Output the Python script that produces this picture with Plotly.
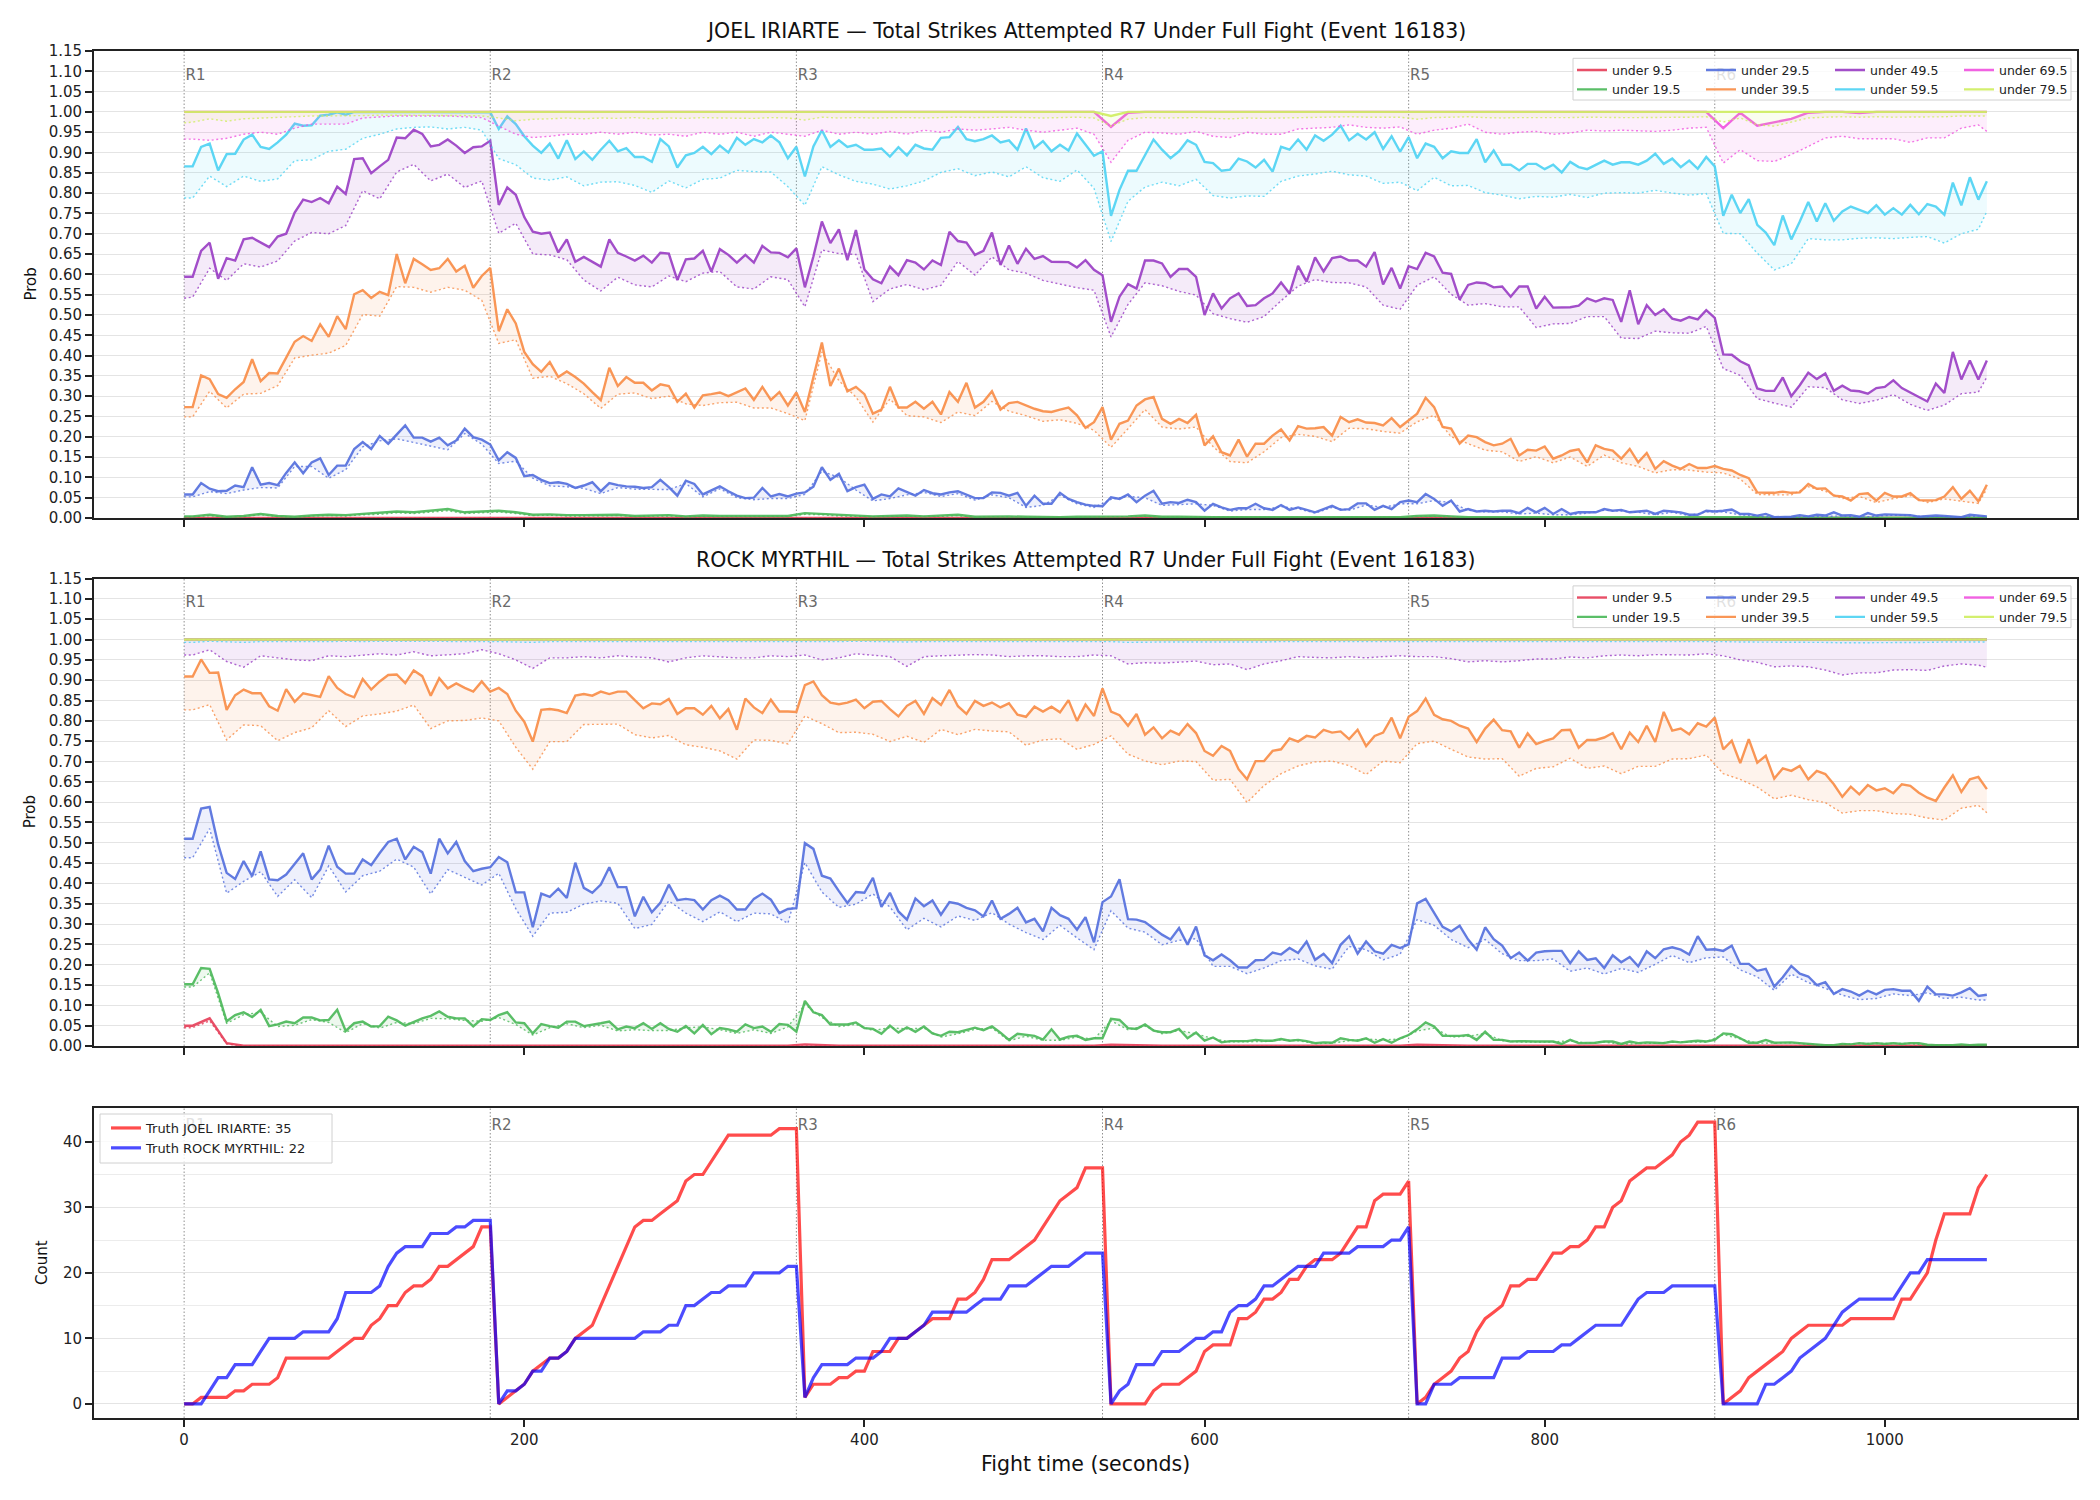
import plotly.graph_objects as go

# ---------------- time grids (seconds) ----------------
T5 = list(range(0, 1061, 5))                      # main solid lines + truth counts
TD = [0] + list(range(5, 1060, 10)) + [1060]      # dotted lines and near-flat lines

ROUND_STARTS = [0, 180, 360, 540, 720, 900]
ROUND_LABELS = ["R1", "R2", "R3", "R4", "R5", "R6"]

THRESHOLDS = ["under 9.5", "under 19.5", "under 29.5", "under 39.5",
              "under 49.5", "under 59.5", "under 69.5", "under 79.5"]
COLORS = ["#e6405a", "#4cb85a", "#5570dd", "#f88d48",
          "#9a3fc4", "#4fd3f3", "#f055e0", "#cfee62"]

TITLE_TOP = "JOEL IRIARTE \u2014 Total Strikes Attempted R7 Under Full Fight (Event 16183)"
TITLE_MID = "ROCK MYRTHIL \u2014 Total Strikes Attempted R7 Under Full Fight (Event 16183)"
TRUTH_NAMES = ["Truth JOEL IRIARTE: 35", "Truth ROCK MYRTHIL: 22"]

# ================= JOEL IRIARTE (top panel) =================
J_U9 = [0,
    0,0,0,0,0,0, 0,0,0,0,0,0, 0,0,0,0,0,0, 0,0,0,0,0,0, 0,0,0,0,0,0, 0,0,0,0,0,0,
    0,0,0,0,0,0, 0,0,0,0,0,0, 0,0,0,0,0,0, 0,0,0,0,0,0, 0,0,0,0,0,0, 0,0,0,0,0,0,
    0,0,0,0,0,0, 0,0,0,0,0,0, 0,0,0,0,0,0, 0,0,0,0,0,0, 0,0,0,0,0,0,
    0,0,0,0, 0]
J_U9_LO = [0,
    0,0,0,0,0,0, 0,0,0,0,0,0, 0,0,0,0,0,0, 0,0,0,0,0,0, 0,0,0,0,0,0, 0,0,0,0,0,0,
    0,0,0,0,0,0, 0,0,0,0,0,0, 0,0,0,0,0,0, 0,0,0,0,0,0, 0,0,0,0,0,0, 0,0,0,0,0,0,
    0,0,0,0,0,0, 0,0,0,0,0,0, 0,0,0,0,0,0, 0,0,0,0,0,0, 0,0,0,0,0,0,
    0,0,0,0, 0]

J_U19 = [.004,
    .004,.008,.003,.005,.010,.005, .003,.006,.008,.007,.010,.012, .016,.014,.018,.022,.014,.016,
    .018,.014,.008,.009,.007,.007, .008,.008,.005,.006,.007,.004, .006,.005,.005,.006,.005,.005,
    .012,.010,.007,.006,.004,.005, .006,.004,.006,.008,.003,.004, .004,.003,.002,.002,.003,.003,
    .004,.004,.006,.003,.003,.002, .002,.002,.002,.002,.002,.002, .002,.002,.002,.002,.002,.002,
    .005,.006,.004,.002,.002,.002, .002,.002,.002,.002,.002,.002, .002,.002,.002,.002,.002,.002,
    .003,.002,.002,.001,.001,.001, .001,.001,.001,.001,.001,.001,
    .001,.001,.001,.001, .001]
J_U19_LO = [.003,
    .003,.006,.002,.004,.008,.004, .002,.005,.006,.005,.008,.009, .013,.011,.015,.018,.011,.013,
    .015,.011,.006,.007,.005,.005, .006,.006,.004,.004,.005,.003, .004,.004,.004,.004,.004,.004,
    .009,.008,.005,.004,.003,.004, .004,.003,.004,.006,.002,.003, .003,.002,.001,.001,.002,.002,
    .003,.003,.004,.002,.002,.001, .001,.001,.001,.001,.001,.001, .001,.001,.001,.001,.001,.001,
    .004,.004,.003,.001,.001,.001, .001,.001,.001,.001,.001,.001, .001,.001,.001,.001,.001,.001,
    .002,.001,.001,.001,.001,.001, .001,.001,.001,.001,.001,.001,
    .001,.001,.001,.001, .001]

J_U29 = [
    .058,.058,.086,.072,.066,.067,.080,.076,.125,.082,.086,.081,
    .111,.137,.110,.137,.147,.106,.129,.129,.170,.187,.170,.202,
    .183,.206,.228,.198,.198,.188,.198,.179,.191,.220,.199,.193,
    .181,.142,.162,.148,.103,.106,.094,.086,.088,.084,.074,.080,
    .088,.066,.086,.081,.078,.077,.074,.076,.094,.076,.055,.092,
    .084,.058,.067,.078,.066,.055,.049,.050,.074,.053,.059,.053,
    .060,.063,.077,.125,.094,.109,.066,.076,.082,.047,.058,.053,
    .073,.063,.055,.069,.061,.058,.063,.066,.058,.049,.049,.063,
    .062,.055,.062,.030,.055,.035,.035,.062,.047,.039,.033,.030,
    .029,.051,.047,.058,.039,.055,.067,.035,.039,.037,.045,.039,
    .018,.035,.026,.020,.024,.024,.035,.024,.020,.032,.020,.026,
    .020,.014,.022,.030,.020,.022,.036,.036,.020,.030,.022,.039,
    .043,.039,.059,.047,.030,.043,.016,.022,.016,.018,.016,.018,
    .018,.012,.025,.014,.025,.010,.022,.010,.014,.014,.014,.022,
    .018,.020,.014,.016,.018,.010,.018,.016,.014,.008,.008,.018,
    .016,.018,.021,.010,.010,.006,.010,.002,.003,.003,.007,.004,
    .008,.006,.014,.006,.007,.003,.012,.006,.009,.008,.008,.007,
    .003,.004,.006,.005,.003,.002,.008,.006,.004]
J_U29_LO = [.052,
    .052,.065,.060,.069,.075,.074, .127,.127,.098,.119,.175,.190, .195,.186,.177,.168,.208,.182,
    .134,.140,.098,.079,.077,.073, .060,.075,.071,.070,.070,.085, .052,.072,.050,.045,.048,.048,
    .058,.115,.100,.069,.042,.048, .057,.063,.053,.060,.044,.057, .050,.026,.031,.056,.035,.026,
    .046,.053,.050,.031,.033,.035, .031,.017,.021,.021,.028,.023, .012,.026,.019,.032,.026,.035,
    .035,.043,.038,.019,.015,.015, .010,.012,.008,.008,.012,.019, .017,.014,.008,.014,.006,.015,
    .015,.008,.005,.002,.002,.003, .005,.005,.002,.005,.007,.006,
    .003,.004,.002,.005, .003]

J_U39 = [
    .273,.273,.351,.342,.305,.296,.317,.335,.391,.337,.357,.356,
    .395,.434,.448,.436,.477,.446,.497,.465,.551,.561,.542,.557,
    .549,.650,.578,.638,.625,.611,.615,.638,.607,.621,.567,.596,
    .616,.460,.514,.479,.409,.379,.360,.384,.347,.361,.347,.331,
    .310,.290,.370,.325,.347,.333,.333,.314,.329,.325,.286,.306,
    .272,.302,.305,.309,.300,.310,.319,.291,.323,.291,.310,.277,
    .309,.261,.347,.432,.325,.368,.312,.323,.305,.257,.267,.323,
    .272,.272,.286,.269,.286,.255,.310,.286,.333,.272,.286,.312,
    .267,.283,.286,.277,.269,.263,.261,.267,.272,.253,.222,.236,
    .273,.193,.232,.240,.277,.292,.298,.244,.232,.244,.234,.254,
    .179,.201,.162,.154,.193,.151,.183,.183,.203,.218,.191,.226,
    .220,.221,.224,.203,.249,.236,.243,.235,.234,.228,.246,.224,
    .241,.257,.296,.273,.224,.220,.183,.203,.199,.187,.179,.183,
    .195,.154,.168,.166,.176,.146,.154,.165,.169,.137,.179,.170,
    .166,.146,.170,.137,.160,.121,.140,.129,.121,.133,.123,.123,
    .128,.121,.117,.106,.098,.063,.062,.062,.065,.062,.063,.084,
    .072,.073,.055,.053,.043,.059,.061,.043,.062,.053,.053,.061,
    .044,.043,.044,.053,.076,.047,.067,.041,.082]
J_U39_LO = [.249,
    .249,.312,.271,.305,.307,.326, .394,.401,.406,.425,.501,.497, .570,.568,.556,.568,.561,.536,
    .430,.439,.344,.349,.331,.306, .270,.305,.308,.294,.300,.281, .277,.284,.285,.271,.271,.257,
    .240,.409,.338,.298,.236,.293, .252,.249,.235,.261,.252,.287, .263,.252,.238,.242,.233,.216,
    .174,.220,.267,.224,.219,.224, .176,.139,.136,.163,.198,.206, .201,.188,.221,.220,.213,.209,
    .237,.253,.200,.183,.167,.163, .139,.151,.136,.150,.127,.155, .136,.127,.111,.119,.118,.113,
    .111,.096,.058,.057,.057,.077, .066,.048,.053,.038,.048,.055,
    .038,.047,.042,.036, .072]

J_U49 = [
    .594,.594,.658,.678,.589,.640,.634,.686,.690,.678,.667,.693,
    .700,.752,.784,.778,.788,.775,.816,.798,.884,.886,.849,.866,
    .882,.937,.935,.956,.946,.915,.919,.932,.917,.899,.913,.915,
    .929,.771,.814,.796,.741,.705,.700,.703,.654,.686,.631,.643,
    .631,.619,.686,.653,.644,.634,.646,.629,.653,.651,.586,.637,
    .639,.658,.607,.662,.648,.629,.648,.629,.670,.654,.653,.642,
    .664,.568,.644,.730,.677,.711,.635,.709,.612,.588,.578,.619,
    .598,.635,.629,.612,.634,.623,.705,.682,.678,.648,.658,.703,
    .623,.671,.626,.663,.638,.645,.631,.631,.630,.617,.635,.611,
    .598,.483,.545,.576,.565,.634,.634,.627,.594,.613,.613,.594,
    .500,.553,.516,.541,.553,.522,.524,.541,.553,.580,.553,.621,
    .582,.642,.607,.640,.644,.634,.634,.619,.655,.575,.616,.565,
    .620,.613,.653,.644,.604,.601,.538,.574,.580,.578,.568,.570,
    .545,.570,.570,.516,.545,.518,.518,.519,.523,.541,.533,.541,
    .537,.483,.561,.477,.524,.500,.514,.491,.486,.495,.489,.512,
    .493,.403,.402,.386,.376,.319,.313,.313,.346,.300,.327,.358,
    .342,.356,.313,.326,.314,.312,.306,.320,.323,.339,.320,.310,
    .298,.287,.331,.308,.409,.341,.388,.341,.388]
J_U49_LO = [.541,
    .544,.615,.585,.626,.618,.633, .682,.703,.700,.720,.806,.786, .852,.871,.830,.847,.814,.830,
    .701,.726,.650,.648,.636,.586, .559,.593,.574,.569,.596,.582, .603,.607,.569,.564,.594,.587,
    .520,.660,.651,.649,.533,.564, .575,.562,.573,.632,.598,.643, .611,.603,.585,.576,.567,.561,
    .446,.526,.579,.572,.558,.549, .503,.491,.482,.496,.535,.571, .587,.580,.579,.569,.524,.514,
    .573,.594,.551,.524,.528,.520, .520,.469,.478,.479,.496,.496, .443,.442,.460,.456,.455,.472,
    .368,.351,.294,.283,.273,.323, .321,.291,.282,.290,.304,.280,
    .265,.278,.306,.310, .347]

J_U59 = [
    .866,.866,.914,.922,.856,.896,.897,.932,.944,.914,.909,.925,
    .944,.971,.966,.967,.991,.993,.999,.993,1.0,1.0,.999,1.0,
    1.0,1.0,1.0,1.0,1.0,1.0,1.0,1.0,1.0,1.0,1.0,1.0,
    .999,.958,.989,.970,.940,.917,.899,.922,.885,.930,.884,.903,
    .882,.907,.929,.903,.911,.889,.889,.877,.933,.915,.863,.893,
    .899,.914,.896,.917,.900,.936,.919,.933,.925,.942,.925,.886,
    .914,.841,.915,.955,.914,.930,.914,.919,.907,.907,.910,.890,
    .913,.893,.919,.910,.907,.936,.938,.963,.933,.928,.933,.942,
    .925,.930,.907,.959,.911,.928,.903,.919,.905,.947,.919,.892,
    .903,.744,.808,.855,.855,.895,.932,.907,.886,.903,.930,.919,
    .877,.874,.855,.858,.885,.878,.863,.882,.853,.914,.907,.932,
    .907,.942,.929,.944,.966,.930,.946,.932,.950,.909,.940,.902,
    .938,.886,.922,.914,.886,.903,.899,.899,.933,.876,.905,.870,
    .870,.856,.872,.872,.859,.870,.851,.877,.864,.859,.870,.880,
    .870,.876,.876,.870,.880,.897,.872,.885,.864,.880,.860,.889,
    .866,.744,.796,.751,.785,.722,.703,.672,.745,.686,.730,.778,
    .730,.775,.732,.755,.767,.759,.751,.770,.747,.763,.747,.771,
    .748,.773,.767,.747,.826,.770,.839,.784,.829]
J_U59_LO = [.788,
    .788,.842,.816,.842,.829,.835, .880,.882,.903,.908,.935,.945, .958,.962,.963,.958,.962,.955,
    .885,.870,.837,.832,.840,.818, .827,.828,.819,.802,.830,.813, .834,.837,.856,.853,.852,.816,
    .770,.865,.845,.829,.822,.810, .818,.830,.851,.860,.843,.852, .840,.865,.838,.829,.857,.812,
    .681,.780,.815,.827,.818,.834, .794,.788,.793,.792,.829,.842, .847,.854,.845,.842,.824,.827,
    .806,.839,.818,.819,.801,.795, .786,.792,.790,.797,.789,.800, .801,.800,.807,.800,.795,.799,
    .701,.700,.652,.611,.626,.688, .685,.685,.689,.690,.688,.691,
    .693,.677,.700,.711, .755]

J_U69 = [1,
    1,1,1,1,1,1, 1,1,1,1,1,1, 1,1,1,1,1,1, 1,1,1,1,1,1, 1,1,1,1,1,1, 1,1,1,1,1,1,
    1,1,1,1,1,1, 1,1,1,1,1,1, 1,1,1,1,1,1, .963,.998,1,1,1,1, 1,1,1,1,1,1, 1,1,1,1,1,1,
    1,1,1,1,1,1, 1,1,1,1,1,1, 1,1,1,1,1,1, .960,.998,.966,.974,.983,.998, 1,1,.997,1,1,1,
    1,1,1,1, 1]
J_U69_LO = [.933,
    .933,.930,.935,.945,.950,.945, .960,.970,.970,.970,.985,.988, .990,.990,.990,.990,.988,.986,
    .965,.945,.937,.940,.945,.945, .950,.945,.950,.943,.945,.940, .950,.945,.950,.940,.950,.945,
    .940,.955,.945,.950,.945,.952, .945,.955,.950,.958,.955,.958, .962,.955,.950,.955,.960,.945,
    .876,.930,.950,.948,.945,.952, .940,.937,.950,.945,.945,.958, .960,.962,.968,.962,.960,.963,
    .945,.955,.960,.970,.950,.945, .950,.952,.945,.948,.955,.953, .955,.953,.952,.955,.960,.962,
    .874,.907,.880,.878,.895,.915, .936,.940,.934,.934,.934,.925,
    .936,.936,.960,.968, .952]

J_U79 = [1,
    1,1,1,1,1,1, 1,1,1,1,1,1, 1,1,1,1,1,1, 1,1,1,1,1,1, 1,1,1,1,1,1, 1,1,1,1,1,1,
    1,1,1,1,1,1, 1,1,1,1,1,1, 1,1,1,1,1,1, .990,1,1,1,1,1, 1,1,1,1,1,1, 1,1,1,1,1,1,
    1,1,1,1,1,1, 1,1,1,1,1,1, 1,1,1,1,1,1, 1,1,1,1,1,1, 1,1,1,1,1,1,
    1,1,1,1, 1]
J_U79_LO = [.973,
    .975,.983,.977,.983,.985,.987, .988,.990,.990,.990,.991,.992, .992,.992,.992,.992,.991,.990,
    .985,.978,.982,.983,.985,.983, .985,.984,.986,.983,.985,.984, .986,.985,.985,.984,.986,.985,
    .980,.987,.985,.986,.985,.986, .986,.985,.986,.987,.986,.987, .987,.986,.985,.986,.987,.985,
    .965,.982,.986,.985,.985,.986, .984,.983,.985,.984,.985,.986, .987,.987,.988,.987,.987,.987,
    .982,.986,.987,.988,.986,.985, .986,.986,.985,.986,.987,.986, .986,.986,.986,.987,.987,.988,
    .975,.985,.968,.965,.975,.985, .987,.988,.987,.988,.987,.987,
    .988,.988,.990,.990, .990]

# ================= ROCK MYRTHIL (middle panel) =================
R_U9 = [.050,
    .050,.068,.007,.001,.001,.001, .001,.001,.001,.001,.001,.001, .001,.001,.001,.001,.001,.001,
    .002,.001,.001,.001,.001,.001, .001,.001,.001,.001,.001,.001, .001,.001,.001,.001,.001,.001,
    .004,.002,.001,.001,.001,.001, .001,.001,.001,.001,.001,.001, .001,.001,.001,.001,.001,.001,
    .003,.002,.001,.001,.001,.001, .001,.001,.001,.001,.001,.001, .001,.001,.001,.001,.001,.001,
    .003,.002,.001,.001,.001,.001, .001,.001,.001,.001,.001,.001, .001,.001,.001,.001,.001,.001,
    .002,.001,.001,.001,.001,.001, .001,.001,.001,.001,.001,.001,
    .001,.001,.001,.001, .001]
R_U9_LO = [.045,
    .045,.062,.005,0,0,0, 0,0,0,0,0,0, 0,0,0,0,0,0, 0,0,0,0,0,0, 0,0,0,0,0,0, 0,0,0,0,0,0,
    0,0,0,0,0,0, 0,0,0,0,0,0, 0,0,0,0,0,0, 0,0,0,0,0,0, 0,0,0,0,0,0, 0,0,0,0,0,0,
    0,0,0,0,0,0, 0,0,0,0,0,0, 0,0,0,0,0,0, 0,0,0,0,0,0, 0,0,0,0,0,0,
    0,0,0,0, 0]

R_U19 = [
    .152,.152,.192,.190,.130,.061,.076,.083,.071,.089,.049,.053,
    .060,.056,.070,.070,.063,.064,.089,.037,.056,.060,.048,.049,
    .072,.063,.050,.060,.068,.074,.085,.072,.068,.068,.048,.066,
    .064,.076,.083,.058,.056,.031,.054,.049,.045,.060,.060,.049,
    .052,.056,.060,.041,.048,.044,.056,.042,.056,.042,.035,.049,
    .031,.052,.029,.044,.041,.035,.053,.044,.048,.035,.054,.052,
    .035,.111,.083,.076,.053,.053,.053,.058,.044,.042,.030,.050,
    .033,.046,.035,.048,.031,.025,.035,.034,.039,.045,.039,.048,
    .033,.015,.030,.027,.025,.016,.041,.016,.023,.025,.015,.019,
    .019,.067,.064,.044,.042,.053,.038,.034,.034,.042,.019,.033,
    .013,.021,.009,.012,.012,.012,.015,.013,.013,.017,.013,.015,
    .012,.007,.009,.008,.019,.015,.013,.019,.008,.017,.008,.019,
    .027,.041,.058,.048,.025,.025,.025,.027,.015,.035,.015,.015,
    .011,.012,.011,.011,.011,.011,.005,.015,.007,.008,.008,.011,
    .011,.005,.011,.007,.009,.008,.007,.011,.009,.011,.013,.011,
    .015,.031,.029,.019,.008,.008,.015,.008,.008,.009,.007,.005,
    .003,.002,.002,.005,.004,.007,.005,.007,.005,.007,.005,.007,
    .007,.003,.002,.002,.002,.004,.002,.003,.003]
R_U19_LO = [.145,
    .145,.180,.056,.077,.083,.048, .051,.065,.058,.033,.055,.044, .058,.055,.068,.067,.063,.061,
    .070,.053,.027,.045,.055,.045, .051,.037,.040,.038,.038,.045, .047,.040,.031,.040,.031,.047,
    .102,.070,.048,.053,.038,.045, .042,.044,.022,.030,.041,.044, .013,.024,.014,.014,.022,.017,
    .062,.040,.049,.030,.038,.030, .018,.010,.010,.011,.015,.013, .006,.007,.013,.017,.015,.017,
    .037,.044,.022,.024,.031,.013, .010,.010,.010,.013,.007,.010, .004,.006,.007,.010,.010,.010,
    .028,.017,.007,.007,.008,.004, .002,.004,.006,.006,.006,.006,
    .002,.002,.003,.002, .002]

R_U29 = [
    .510,.510,.584,.588,.496,.426,.411,.455,.418,.479,.410,.408,
    .422,.449,.474,.410,.434,.493,.441,.424,.424,.459,.445,.475,
    .502,.510,.459,.490,.477,.424,.510,.474,.502,.455,.430,.436,
    .440,.465,.452,.378,.378,.292,.375,.367,.387,.364,.451,.389,
    .377,.397,.440,.391,.391,.319,.367,.329,.352,.397,.359,.362,
    .359,.336,.359,.370,.359,.336,.336,.362,.375,.360,.327,.337,
    .339,.499,.485,.419,.412,.381,.352,.379,.377,.414,.342,.377,
    .331,.311,.363,.344,.358,.323,.354,.350,.340,.334,.319,.358,
    .313,.325,.340,.304,.313,.282,.340,.322,.313,.286,.317,.255,
    .354,.368,.410,.312,.311,.305,.290,.274,.262,.290,.249,.294,
    .223,.211,.225,.211,.193,.193,.211,.212,.230,.225,.241,.229,
    .257,.212,.227,.204,.249,.270,.227,.257,.233,.227,.249,.241,
    .250,.351,.362,.327,.293,.282,.296,.262,.237,.292,.263,.247,
    .216,.230,.210,.230,.233,.234,.234,.204,.233,.212,.216,.192,
    .223,.206,.219,.196,.233,.216,.238,.243,.237,.225,.270,.237,
    .238,.234,.247,.202,.202,.185,.190,.146,.169,.197,.178,.171,
    .150,.157,.128,.140,.134,.124,.136,.127,.138,.140,.136,.136,
    .111,.146,.127,.127,.124,.132,.142,.123,.126]
R_U29_LO = [.463,
    .463,.535,.376,.405,.429,.368, .409,.365,.443,.379,.419,.430, .460,.440,.374,.434,.415,.396,
    .425,.338,.270,.327,.329,.349, .357,.351,.289,.299,.357,.327, .306,.330,.306,.327,.325,.302,
    .451,.379,.341,.349,.374,.342, .286,.314,.293,.320,.309,.328, .300,.279,.262,.297,.266,.237,
    .333,.290,.280,.249,.260,.264, .196,.196,.178,.192,.210,.214, .197,.189,.245,.237,.212,.226,
    .311,.297,.262,.242,.262,.227, .210,.210,.214,.184,.192,.177, .191,.181,.201,.223,.205,.217,
    .219,.187,.170,.137,.177,.156, .142,.125,.114,.117,.128,.124,
    .131,.117,.120,.113, .113]

R_U39 = [
    .909,.909,.951,.918,.919,.827,.863,.877,.868,.868,.836,.825,
    .878,.847,.868,.863,.859,.910,.881,.866,.858,.903,.877,.897,
    .913,.914,.893,.924,.910,.862,.905,.880,.892,.881,.872,.897,
    .872,.881,.866,.825,.798,.749,.827,.829,.826,.819,.862,.866,
    .862,.872,.866,.872,.872,.851,.831,.843,.841,.854,.817,.831,
    .831,.815,.837,.806,.829,.778,.855,.833,.819,.852,.823,.823,
    .822,.888,.897,.863,.845,.841,.845,.852,.831,.847,.849,.829,
    .811,.837,.849,.817,.856,.839,.876,.836,.817,.849,.837,.845,
    .833,.843,.815,.810,.835,.823,.835,.821,.851,.800,.840,.812,
    .880,.823,.814,.788,.817,.766,.784,.757,.776,.766,.792,.770,
    .726,.714,.738,.726,.681,.656,.701,.701,.726,.730,.757,.749,
    .763,.759,.778,.771,.774,.755,.778,.738,.763,.771,.808,.757,
    .810,.824,.855,.815,.804,.800,.788,.781,.748,.781,.803,.777,
    .774,.734,.769,.743,.751,.757,.777,.778,.734,.753,.753,.759,
    .770,.730,.771,.748,.788,.748,.822,.776,.781,.767,.794,.786,
    .808,.730,.751,.696,.755,.697,.714,.658,.683,.677,.689,.656,
    .677,.669,.644,.613,.638,.619,.642,.629,.634,.622,.644,.640,
    .623,.611,.603,.636,.666,.625,.656,.662,.632]
R_U39_LO = [.827,
    .827,.840,.753,.790,.788,.751, .771,.783,.825,.786,.812,.817, .824,.839,.781,.800,.801,.807,
    .800,.735,.681,.749,.749,.791, .792,.792,.766,.758,.764,.741, .735,.726,.706,.753,.752,.743,
    .812,.793,.771,.772,.767,.749, .762,.747,.779,.766,.779,.775, .773,.740,.753,.756,.730,.742,
    .763,.718,.701,.692,.701,.700, .654,.656,.599,.641,.670,.689, .699,.701,.690,.668,.701,.697,
    .744,.750,.730,.711,.706,.707, .664,.683,.687,.708,.683,.689, .670,.688,.688,.706,.707,.716,
    .670,.656,.637,.608,.617,.606, .599,.573,.579,.579,.572,.570,
    .561,.556,.585,.592, .574]

R_U49 = [1,
    1,1,1,1,1,1, 1,1,1,1,1,1, 1,1,1,1,1,1, 1,1,1,1,1,1, 1,1,1,1,1,1, 1,1,1,1,1,1,
    1,1,1,1,1,1, 1,1,1,1,1,1, 1,1,1,1,1,1, 1,1,1,1,1,1, 1,1,1,1,1,1, 1,1,1,1,1,1,
    1,1,1,1,1,1, 1,1,1,1,1,1, 1,1,1,1,1,1, 1,1,1,1,1,1, 1,1,1,1,1,1,
    1,1,1,1, 1]
R_U49_LO = [.962,
    .962,.975,.946,.932,.960,.955, .950,.948,.960,.958,.962,.965, .962,.970,.960,.962,.965,.975,
    .965,.950,.929,.955,.955,.958, .955,.960,.958,.955,.945,.955, .960,.958,.955,.955,.960,.958,
    .962,.950,.955,.965,.962,.958, .934,.958,.960,.962,.963,.962, .958,.960,.960,.958,.958,.962,
    .960,.940,.943,.942,.945,.947, .938,.940,.926,.940,.948,.958, .956,.955,.958,.955,.958,.960,
    .958,.958,.953,.945,.948,.945, .948,.952,.952,.957,.955,.960, .962,.960,.963,.962,.962,.965,
    .960,.950,.944,.933,.935,.933, .925,.913,.918,.918,.925,.926,
    .924,.935,.940,.937, .932]

R_U59 = [1,
    1,1,1,1,1,1, 1,1,1,1,1,1, 1,1,1,1,1,1, 1,1,1,1,1,1, 1,1,1,1,1,1, 1,1,1,1,1,1,
    1,1,1,1,1,1, 1,1,1,1,1,1, 1,1,1,1,1,1, 1,1,1,1,1,1, 1,1,1,1,1,1, 1,1,1,1,1,1,
    1,1,1,1,1,1, 1,1,1,1,1,1, 1,1,1,1,1,1, 1,1,1,1,1,1, 1,1,1,1,1,1,
    1,1,1,1, 1]
R_U59_LO = [.993,
    .993,.996,.994,.993,.995,.995, .995,.994,.995,.996,.995,.996, .996,.996,.995,.996,.996,.996,
    .995,.994,.993,.995,.995,.995, .995,.995,.995,.995,.994,.995, .995,.995,.995,.995,.995,.995,
    .995,.994,.995,.996,.995,.995, .994,.995,.995,.995,.996,.996, .995,.995,.995,.995,.995,.996,
    .995,.993,.994,.994,.994,.994, .994,.994,.993,.994,.995,.995, .995,.995,.996,.995,.995,.996,
    .995,.995,.995,.995,.995,.995, .995,.995,.995,.995,.995,.996, .996,.996,.996,.996,.996,.996,
    .995,.994,.994,.993,.993,.993, .993,.992,.992,.993,.993,.993,
    .993,.994,.994,.994, .994]

R_U69 = [1,
    1,1,1,1,1,1, 1,1,1,1,1,1, 1,1,1,1,1,1, 1,1,1,1,1,1, 1,1,1,1,1,1, 1,1,1,1,1,1,
    1,1,1,1,1,1, 1,1,1,1,1,1, 1,1,1,1,1,1, 1,1,1,1,1,1, 1,1,1,1,1,1, 1,1,1,1,1,1,
    1,1,1,1,1,1, 1,1,1,1,1,1, 1,1,1,1,1,1, 1,1,1,1,1,1, 1,1,1,1,1,1,
    1,1,1,1, 1]
R_U69_LO = [.998,
    .998,.999,.998,.998,.999,.999, .999,.999,.999,.999,.999,.999, .999,.999,.999,.999,.999,.999,
    .999,.998,.998,.999,.999,.999, .999,.999,.999,.999,.999,.999, .999,.999,.999,.999,.999,.999,
    .999,.999,.999,.999,.999,.999, .998,.999,.999,.999,.999,.999, .999,.999,.999,.999,.999,.999,
    .999,.998,.998,.998,.998,.998, .998,.998,.998,.998,.999,.999, .999,.999,.999,.999,.999,.999,
    .999,.999,.999,.999,.999,.999, .999,.999,.999,.999,.999,.999, .999,.999,.999,.999,.999,.999,
    .999,.998,.998,.998,.998,.998, .998,.998,.998,.998,.998,.998,
    .998,.998,.998,.998, .998]

R_U79 = [1,
    1,1,1,1,1,1, 1,1,1,1,1,1, 1,1,1,1,1,1, 1,1,1,1,1,1, 1,1,1,1,1,1, 1,1,1,1,1,1,
    1,1,1,1,1,1, 1,1,1,1,1,1, 1,1,1,1,1,1, 1,1,1,1,1,1, 1,1,1,1,1,1, 1,1,1,1,1,1,
    1,1,1,1,1,1, 1,1,1,1,1,1, 1,1,1,1,1,1, 1,1,1,1,1,1, 1,1,1,1,1,1,
    1,1,1,1, 1]
R_U79_LO = [.9995,
    .9995,1,1,1,1,1, 1,1,1,1,1,1, 1,1,1,1,1,1, 1,1,1,1,1,1, 1,1,1,1,1,1, 1,1,1,1,1,1,
    1,1,1,1,1,1, 1,1,1,1,1,1, 1,1,1,1,1,1, 1,1,1,1,1,1, 1,1,1,1,1,1, 1,1,1,1,1,1,
    1,1,1,1,1,1, 1,1,1,1,1,1, 1,1,1,1,1,1, 1,1,1,1,1,1, 1,1,1,1,1,1,
    1,1,1,1, 1]

# ================= truth counts (bottom panel) =================
TRUTH_JOEL = [
    0,0,1,1,1,1,2,2,3,3,3,4,
    7,7,7,7,7,7,8,9,10,10,12,13,
    15,15,17,18,18,19,21,21,22,23,24,27,
    27,0,1,2,3,5,6,7,7,8,10,11,
    12,15,18,21,24,27,28,28,29,30,31,34,
    35,35,37,39,41,41,41,41,41,41,42,42,
    42,1,3,3,3,4,4,5,5,8,8,8,
    10,10,11,12,13,13,13,16,16,17,19,22,
    22,22,23,24,25,27,29,31,32,33,36,36,
    36,0,0,0,0,0,2,3,3,3,4,5,
    8,9,9,9,13,13,14,16,16,17,19,19,
    21,22,22,22,23,25,27,27,31,32,32,32,
    34,0,1,3,4,5,7,8,11,13,14,15,
    18,18,19,19,21,23,23,24,24,25,27,27,
    30,31,34,35,36,36,37,38,40,41,43,43,
    43,0,1,2,4,5,6,7,8,10,11,12,
    12,12,12,12,13,13,13,13,13,13,16,16,
    18,20,25,29,29,29,29,33,35]
TRUTH_ROCK = [
    0,0,0,2,4,4,6,6,6,8,10,10,
    10,10,11,11,11,11,13,17,17,17,17,18,
    21,23,24,24,24,26,26,26,27,27,28,28,
    28,0,2,2,3,5,5,7,7,8,10,10,
    10,10,10,10,10,10,11,11,11,12,12,15,
    15,16,17,17,18,18,18,20,20,20,20,21,
    21,1,4,6,6,6,6,7,7,7,8,10,
    10,10,11,12,14,14,14,14,14,15,16,16,
    16,18,18,18,19,20,21,21,21,22,23,23,
    23,0,2,3,6,6,6,8,8,8,9,10,
    10,11,11,14,15,15,16,18,18,19,20,21,
    21,21,23,23,23,23,24,24,24,24,25,25,
    27,0,0,3,3,3,4,4,4,4,4,7,
    7,7,8,8,8,8,9,9,10,11,12,12,
    12,12,14,16,17,17,17,18,18,18,18,18,
    18,0,0,0,0,0,3,3,4,5,7,8,
    9,10,12,14,15,16,16,16,16,16,18,20,
    20,22,22,22,22,22,22,22,22]

JOEL_SERIES = [(J_U9, J_U9_LO), (J_U19, J_U19_LO), (J_U29, J_U29_LO), (J_U39, J_U39_LO),
               (J_U49, J_U49_LO), (J_U59, J_U59_LO), (J_U69, J_U69_LO), (J_U79, J_U79_LO)]
ROCK_SERIES = [(R_U9, R_U9_LO), (R_U19, R_U19_LO), (R_U29, R_U29_LO), (R_U39, R_U39_LO),
               (R_U49, R_U49_LO), (R_U59, R_U59_LO), (R_U69, R_U69_LO), (R_U79, R_U79_LO)]

# ---------------- geometry ----------------
W, H = 2100, 1500
ML, MR, MT, MB = 94, 23, 51, 82
PW, PH = W - ML - MR, H - MT - MB


def py(Y):
    return (H - MB - Y) / PH


def px(X):
    return (X - ML) / PW


def rgba(h, a):
    h = h.lstrip("#")
    return "rgba(%d,%d,%d,%.3f)" % (int(h[0:2], 16), int(h[2:4], 16), int(h[4:6], 16), a)


def grid_for(arr):
    return T5 if len(arr) == len(T5) else TD


problems = []
fig = go.Figure()

panels = [("x", "y", JOEL_SERIES, ("legend", "legend2")),
          ("x2", "y2", ROCK_SERIES, ("legend3", "legend4"))]
for xa, ya, series, legs in panels:
    for i, (solid, lo) in enumerate(series):
        col = COLORS[i]
        if len(solid) not in (len(T5), len(TD)):
            problems.append("%s %s solid %d" % (ya, THRESHOLDS[i], len(solid)))
        if len(lo) != len(TD):
            problems.append("%s %s lo %d" % (ya, THRESHOLDS[i], len(lo)))
        fig.add_trace(go.Scatter(
            x=grid_for(solid), y=solid, mode="lines", name=THRESHOLDS[i],
            line=dict(color=rgba(col, 0.92), width=2.4),
            legend=legs[0] if i % 2 == 0 else legs[1],
            xaxis=xa, yaxis=ya, hoverinfo="skip"))
        fig.add_trace(go.Scatter(
            x=TD, y=lo, mode="lines", showlegend=False,
            line=dict(color=rgba(col, 0.8), width=1.4, dash="2px,2.6px"),
            fill="tonexty", fillcolor=rgba(col, 0.10),
            xaxis=xa, yaxis=ya, hoverinfo="skip"))

for k, (arr, col) in enumerate([(TRUTH_JOEL, "#ff0000"), (TRUTH_ROCK, "#0000ff")]):
    if len(arr) != len(T5):
        problems.append("truth %d len %d" % (k, len(arr)))
    fig.add_trace(go.Scatter(
        x=T5, y=arr, mode="lines", name=TRUTH_NAMES[k],
        line=dict(color=rgba(col, 0.7), width=3.2),
        legend="legend5", legendgroup="g%d" % k,
        xaxis="x3", yaxis="y3", hoverinfo="skip"))

# round labels as text marks (drawn under the legend boxes, as in the reference)
for xr, yr, ylab in [("x", "y", 1.088), ("x2", "y2", 1.09), ("x3", "y3", 42.3)]:
    fig.add_trace(go.Scatter(
        x=[r + 0.8 for r in ROUND_STARTS], y=[ylab] * len(ROUND_STARTS),
        mode="text", text=ROUND_LABELS, textposition="middle right",
        textfont=dict(family="DejaVu Sans", size=15, color="#6a6a6a"),
        showlegend=False, cliponaxis=False, xaxis=xr, yaxis=yr, hoverinfo="skip"))

# ---------------- axes ----------------
axis_font = dict(family="DejaVu Sans", size=15, color="#222")
xcommon = dict(range=[-53, 1113], tickvals=[0, 200, 400, 600, 800, 1000],
               ticks="outside", ticklen=7, tickwidth=1.5, tickcolor="#222",
               showline=True, mirror=True, linecolor="#222", linewidth=1.8,
               showgrid=False, zeroline=False, tickfont=axis_font)
PROB_TICKS = [i * 0.05 for i in range(24)]
PROB_TEXT = ["%.2f" % v for v in PROB_TICKS]
ycommon = dict(range=[0, 1.15], tickvals=PROB_TICKS, ticktext=PROB_TEXT,
               ticks="outside", ticklen=7, tickwidth=1.5, tickcolor="#222",
               showline=True, mirror=True, linecolor="#222", linewidth=1.8,
               showgrid=True, gridcolor="#e4e4e4", gridwidth=1, zeroline=False,
               tickfont=axis_font)

fig.update_layout(
    xaxis=dict(xcommon, anchor="y", domain=[0, 1], showticklabels=False),
    xaxis2=dict(xcommon, anchor="y2", domain=[0, 1], showticklabels=False),
    xaxis3=dict(xcommon, anchor="y3", domain=[0, 1], showticklabels=True),
    yaxis=dict(ycommon, anchor="x", domain=[py(518), 1.0]),
    yaxis2=dict(ycommon, anchor="x2", domain=[py(1046), py(578.6)]),
    yaxis3=dict(range=[-2.15, 45.15], tickvals=[0, 10, 20, 30, 40], anchor="x3",
                domain=[0, py(1108)], ticks="outside", ticklen=7, tickwidth=1.5,
                tickcolor="#222", showline=True, mirror=True, linecolor="#222",
                linewidth=1.8, showgrid=True, gridcolor="#e4e4e4", zeroline=False,
                minor=dict(tickvals=[5, 15, 25, 35], showgrid=True, gridcolor="#ececec", ticks=""),
                tickfont=axis_font),
)

# ---------------- legends ----------------
def hleg(x, ytop):
    return dict(x=x, y=py(ytop), xanchor="left", yanchor="top", orientation="h",
                traceorder="normal", bgcolor="rgba(0,0,0,0)", borderwidth=0,
                font=dict(family="DejaVu Sans", size=12.5, color="#222"),
                entrywidth=84, entrywidthmode="pixels", itemwidth=30)

fig.update_layout(
    legend=hleg(px(1572), 55.3),
    legend2=hleg(px(1572), 74.7),
    legend3=hleg(px(1572), 582.9),
    legend4=hleg(px(1572), 602.3),
    legend5=dict(x=px(106), y=py(1113), xanchor="left", yanchor="top", orientation="v",
                 traceorder="normal", bgcolor="rgba(0,0,0,0)", borderwidth=0, tracegroupgap=3,
                 font=dict(family="DejaVu Sans", size=13, color="#222"), itemwidth=30),
)

shapes = []
for (y0, y1) in [(58.3, 100.0), (585.9, 627.6)]:
    shapes.append(dict(type="rect", xref="paper", yref="paper",
                       x0=px(1573), x1=px(2071), y0=py(y1), y1=py(y0),
                       fillcolor="rgba(255,255,255,0.8)",
                       line=dict(color="#d0d0d0", width=1), layer="above"))
shapes.append(dict(type="rect", xref="paper", yref="paper",
                   x0=px(100), x1=px(332), y0=py(1163), y1=py(1114),
                   fillcolor="rgba(255,255,255,0.8)",
                   line=dict(color="#d0d0d0", width=1), layer="above"))
for yd in ["y", "y2", "y3"]:
    xr = {"y": "x", "y2": "x2", "y3": "x3"}[yd]
    for r in ROUND_STARTS:
        shapes.append(dict(type="line", xref=xr, yref=yd + " domain", x0=r, x1=r, y0=0, y1=1,
                           line=dict(color="rgba(70,70,70,0.6)", width=1, dash="1.5px,2px"),
                           layer="below"))
fig.update_layout(shapes=shapes)

# ---------------- annotations ----------------
ann = []
ann.append(dict(text=TITLE_TOP, x=0.5, y=py(31), xref="paper", yref="paper",
                showarrow=False, xanchor="center", yanchor="middle",
                font=dict(family="DejaVu Sans", size=20.5, color="#111")))
ann.append(dict(text=TITLE_MID, x=0.5, y=py(560), xref="paper", yref="paper",
                showarrow=False, xanchor="center", yanchor="middle",
                font=dict(family="DejaVu Sans", size=20.5, color="#111")))
ann.append(dict(text="Fight time (seconds)", x=0.5, y=py(1464), xref="paper", yref="paper",
                showarrow=False, xanchor="center", yanchor="middle",
                font=dict(family="DejaVu Sans", size=20.5, color="#111")))
for txt, xx, yy in [("Prob", 30, 284.5), ("Prob", 30, 812.3), ("Count", 42, 1263)]:
    ann.append(dict(text=txt, x=px(xx), y=py(yy), xref="paper", yref="paper",
                    showarrow=False, textangle=-90, xanchor="center", yanchor="middle",
                    font=dict(family="DejaVu Sans", size=15, color="#111")))
if problems:
    ann.append(dict(text="LEN: " + "; ".join(problems), x=0.5, y=0.5, xref="paper", yref="paper",
                    showarrow=False, font=dict(size=24, color="red")))
fig.update_layout(annotations=ann)

fig.update_layout(
    width=W, height=H,
    margin=dict(l=ML, r=MR, t=MT, b=MB, autoexpand=False),
    paper_bgcolor="white", plot_bgcolor="white",
    font=dict(family="DejaVu Sans", size=15, color="#222"),
    hovermode=False, showlegend=True,
)

fig.write_html("out.html")
